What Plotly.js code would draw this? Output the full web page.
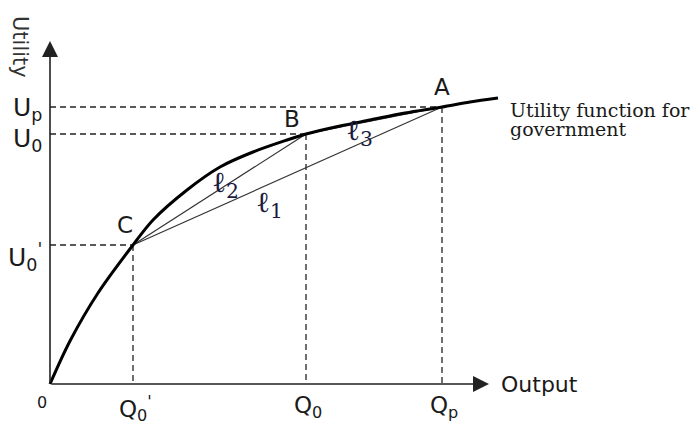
<!DOCTYPE html>
<html>
<head>
<meta charset="utf-8">
<script src="https://cdn.plot.ly/plotly-3.0.1.min.js"></script>
<style>html,body{margin:0;padding:0;background:#fff;}#chart{width:693px;height:421px;}</style>
</head>
<body>
<div id="chart"></div>
<script>
// Utility curve (output Q, utility U)
const curveQ = [0, 20, 48, 83, 103, 137, 170, 203, 237, 256, 290, 320, 355, 392, 420, 448];
const curveU = [0, 43, 91, 139, 164, 194, 217, 232, 244, 250, 258, 264, 271, 277, 282, 286];

// Marked points
const pointNames = ['C', 'B', 'A'];
const pointQ = [83, 256, 392];
const pointU = [139, 250, 277];
const qLabels = ["Q<sub>0</sub><sup>'</sup>", "Q<sub>0</sub>", "Q<sub>p</sub>"];
const uLabels = ["U<sub>0</sub><sup>'</sup>", "U<sub>0</sub>", "U<sub>p</sub>"];

// Chords between points
const chordFrom = [0, 0, 1];
const chordTo = [2, 1, 2];
const chordNames = ['ℓ<sub>1</sub>', 'ℓ<sub>2</sub>', 'ℓ<sub>3</sub>'];

// Axis extents
const axisEndQ = 439;
const axisEndU = 343;

const ink = '#1a1a1a';
const sans = 'DejaVu Sans, sans-serif';

// dashed guide lines
const dashX = [], dashY = [];
for (let i = 0; i < pointQ.length; i++) {
  dashX.push(0, pointQ[i], null, pointQ[i], pointQ[i], null);
  dashY.push(pointU[i], pointU[i], null, pointU[i], 0, null);
}
const chordX = [], chordY = [];
for (let i = 0; i < chordFrom.length; i++) {
  chordX.push(pointQ[chordFrom[i]], pointQ[chordTo[i]], null);
  chordY.push(pointU[chordFrom[i]], pointU[chordTo[i]], null);
}

const traces = [
  {x: dashX, y: dashY, mode: 'lines', line: {color: '#222', width: 1.3, dash: '6px,4px'}, hoverinfo: 'skip'},
  {x: chordX, y: chordY, mode: 'lines', line: {color: '#333', width: 1.2}, hoverinfo: 'skip'},
  {x: curveQ, y: curveU, mode: 'lines', line: {color: '#000', width: 3, shape: 'spline', smoothing: 0.9}, hoverinfo: 'skip'}
];

const ann = [];
// axes with arrows
ann.push({x: 0, y: axisEndU, ax: 0, ay: 0, xref: 'x', yref: 'y', axref: 'x', ayref: 'y', text: '', showarrow: true, arrowhead: 2, arrowsize: 2, arrowwidth: 1.6, arrowcolor: '#222'});
ann.push({x: axisEndQ, y: 0, ax: 0, ay: 0, xref: 'x', yref: 'y', axref: 'x', ayref: 'y', text: '', showarrow: true, arrowhead: 2, arrowsize: 2, arrowwidth: 1.6, arrowcolor: '#222'});

// point labels
const ptShiftX = [-8, -14, 0], ptShiftY = [20, 15, 20];
for (let i = 0; i < pointNames.length; i++) {
  ann.push({x: pointQ[i], y: pointU[i], text: pointNames[i], showarrow: false, xshift: ptShiftX[i], yshift: ptShiftY[i], font: {family: sans, size: 23, color: ink}});
}
// Q labels
for (let i = 0; i < pointQ.length; i++) {
  ann.push({x: pointQ[i], y: 0, text: qLabels[i], showarrow: false, yanchor: 'top', yshift: -6, xshift: 2, font: {family: sans, size: 23, color: ink}});
}
// U labels
const uShiftY = [-12, -6, -2];
for (let i = 0; i < pointU.length; i++) {
  ann.push({x: 0, y: pointU[i], text: uLabels[i], showarrow: false, xanchor: 'right', xshift: -6, yshift: uShiftY[i], font: {family: sans, size: 25, color: ink}});
}
// chord labels
const chShiftX = [-18, 6, -15], chShiftY = [-28, 6, -11];
for (let i = 0; i < chordFrom.length; i++) {
  const mx = (pointQ[chordFrom[i]] + pointQ[chordTo[i]]) / 2;
  const my = (pointU[chordFrom[i]] + pointU[chordTo[i]]) / 2;
  ann.push({x: mx, y: my, text: chordNames[i], showarrow: false, xshift: chShiftX[i], yshift: chShiftY[i], font: {family: 'DejaVu Serif, serif', size: 29, color: '#1a1a40'}});
}
// origin, axis titles, curve label
ann.push({x: 0, y: 0, text: '0', showarrow: false, xshift: -8, yshift: -18, font: {family: sans, size: 16, color: ink}});
ann.push({x: axisEndQ, y: 0, text: 'Output', showarrow: false, xanchor: 'left', xshift: 10, font: {family: sans, size: 22, color: ink}});
ann.push({x: 0, y: axisEndU, text: 'Utility', showarrow: false, textangle: 90, xshift: -30, yshift: -6, font: {family: sans, size: 21, color: '#333'}});
ann.push({x: curveQ[curveQ.length - 1], y: curveU[curveU.length - 1], text: 'Utility function for', showarrow: false, xanchor: 'left', xshift: 10, yshift: -12, font: {family: 'DejaVu Serif, serif', size: 19, color: ink}});
ann.push({x: curveQ[curveQ.length - 1], y: curveU[curveU.length - 1], text: 'government', showarrow: false, xanchor: 'left', xshift: 10, yshift: -31, font: {family: 'DejaVu Serif, serif', size: 19, color: ink}});

const layout = {
  width: 693, height: 421,
  margin: {l: 0, r: 0, t: 0, b: 0},
  paper_bgcolor: '#fff', plot_bgcolor: '#fff',
  showlegend: false,
  xaxis: {range: [-50, 643], visible: false, fixedrange: true},
  yaxis: {range: [-37, 384], visible: false, fixedrange: true},
  annotations: ann
};

Plotly.newPlot('chart', traces, layout, {displayModeBar: false, staticPlot: true});
</script>
</body>
</html>
